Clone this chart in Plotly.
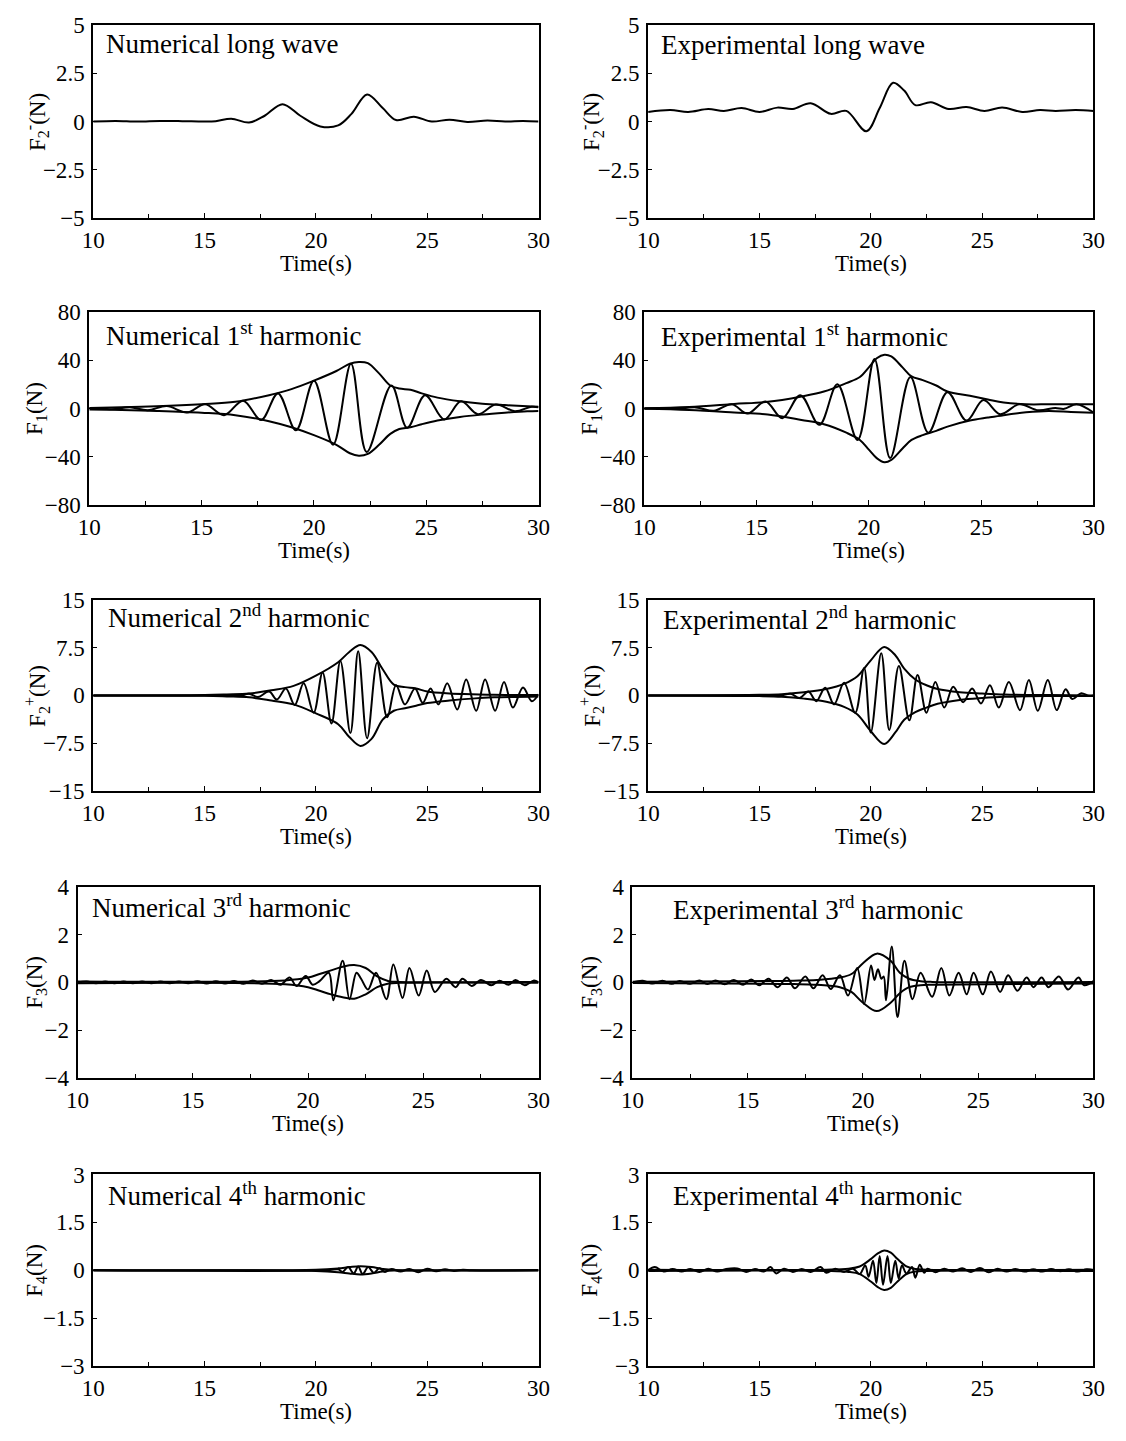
import plotly.graph_objects as go

# ---------------- data ----------------
# Long wave
NUM_LW_T = [10, 11, 12, 13, 14, 15, 15.5, 16.2, 17.0, 17.7, 18.5, 19.3, 20.2, 21.0, 21.6, 22.3, 23.0, 23.6, 24.4, 25.2, 26.0, 26.8, 27.7, 28.5, 29.3, 30]
NUM_LW_V = [0, 0.03, 0, 0.03, 0.02, 0, 0.02, 0.15, -0.05, 0.3, 0.9, 0.3, -0.25, -0.2, 0.4, 1.4, 0.7, 0.08, 0.25, 0, 0.1, -0.02, 0.05, 0, 0.03, 0]
EXP_LW_T = [10, 11, 11.8, 12.7, 13.4, 14.2, 15, 15.8, 16.5, 17.3, 18.2, 18.9, 19.8, 20.4, 21.0, 21.5, 22.0, 22.7, 23.5, 24.3, 25.1, 25.9, 26.8, 27.6, 28.3, 29.2, 30]
EXP_LW_V = [0.5, 0.6, 0.5, 0.65, 0.55, 0.7, 0.5, 0.72, 0.65, 0.95, 0.4, 0.55, -0.5, 0.7, 2.0, 1.6, 0.85, 1.0, 0.65, 0.75, 0.55, 0.72, 0.5, 0.6, 0.55, 0.6, 0.55]

# 1st harmonic
NUM1_T = [10.0, 10.2, 11.0, 11.8, 12.6, 13.45, 14.35, 15.15, 16.0, 16.85, 17.65, 18.4, 19.2, 20.0, 20.85, 21.65, 22.35, 23.45, 24.15, 24.95, 25.8, 26.55, 27.3, 28.1, 28.95, 29.7, 30.0]
NUM1_V = [0.3, 0.5, -0.6, 1.0, -1.4, 2.0, -3.3, 3.5, -5.5, 6.5, -9.5, 12.5, -18, 23, -30, 37, -36, 19, -16, 11, -9, 6, -4.7, 3.3, -2.3, 1.5, 1.0]
NUM1_ENV_T = [10, 11, 13, 15, 16.5, 18, 19, 20, 21, 21.6, 22.0, 22.4, 22.9, 23.4, 23.8, 24.3, 24.8, 25.5, 26.5, 27.5, 28.5, 29.5, 30]
NUM1_UP_V = [0.5, 0.8, 1.8, 3.5, 5.5, 11, 16, 23, 31, 37, 38.5, 37.5, 29, 19, 16.5, 15.5, 12.5, 9, 6, 4, 2.8, 1.8, 1.4]
NUM1_LO_V = [-0.8, -1, -2, -3.5, -5.5, -10.5, -15.5, -22, -30, -37, -39, -37.5, -30, -21, -17, -15.5, -13, -10, -7, -5, -3.5, -2.3, -2]

EXP1_T = [10.0, 10.5, 11.3, 12.3, 13.1, 13.9, 14.6, 15.4, 16.15, 16.95, 17.8, 18.6, 19.5, 20.25, 20.95, 21.85, 22.65, 23.5, 24.35, 25.1, 25.85, 26.7, 27.55, 28.3, 28.7, 29.25, 30.0]
EXP1_V = [0, 0.3, -0.5, 0.9, -1.9, 3.5, -4.2, 5.8, -8, 11, -13.5, 20, -26, 41, -41, 26, -20, 13.5, -10, 7, -4.7, 3.5, -1.5, 0.5, -0.3, 3.5, -3.3]
EXP1_ENV_T = [10, 12, 14, 15.5, 17, 18, 19, 19.6, 20.0, 20.35, 20.7, 21.0, 21.5, 21.9, 22.4, 23.0, 23.5, 24.5, 25.3, 26.0, 27.0, 28.0, 29.0, 30.0]
EXP1_UP_V = [0.3, 1.3, 3.7, 5.5, 10, 14, 21, 26, 34, 41.5, 44.5, 43, 34, 26.5, 23.5, 19, 14, 10.5, 7.5, 5, 3.5, 3.5, 3.5, 3.5]
EXP1_LO_V = [-0.3, -1.3, -3.3, -5, -9.5, -13, -20, -26, -34, -41, -44.5, -42.5, -33, -26, -22, -18.5, -15, -10, -7.5, -5.5, -3.2, -2, -2.8, -3.5]

# 2nd harmonic
NUM2_T = [10.0, 15.5, 16.1, 16.55, 17.0, 17.4, 17.9, 18.25, 18.65, 19.05, 19.45, 19.9, 20.3, 20.7, 21.1, 21.55, 21.9, 22.3, 22.75, 23.2, 23.6, 24.0, 24.45, 24.8, 25.15, 25.5, 25.9, 26.35, 26.75, 27.2, 27.6, 28.05, 28.45, 28.85, 29.3, 29.7, 30.0]
NUM2_V = [0, 0, 0.05, -0.1, 0.25, -0.25, 0.6, -0.65, 1.1, -1.5, 1.9, -2.7, 3.6, -4.4, 5.4, -5.9, 6.9, -6.7, 5.1, -3.4, 1.6, -1.4, 1.1, -1.15, 1.1, -1.4, 1.9, -2.2, 2.5, -2.4, 2.5, -2.4, 2.1, -1.9, 1.25, -0.9, 0.2]
NUM2_ENV_T = [10, 15, 16, 17, 18, 19, 20, 21, 21.5, 22.0, 22.5, 23.0, 23.5, 24.0, 24.5, 25.0, 26, 27, 28, 30]
NUM2_UP_V = [0, 0.05, 0.15, 0.3, 0.8, 1.5, 3.1, 5.2, 6.8, 7.9, 6.8, 4.1, 1.7, 1.3, 1.1, 0.6, 0.3, 0.2, 0.1, 0.05]
NUM2_LO_V = [0, -0.05, -0.15, -0.3, -0.8, -1.4, -2.8, -4.5, -6.5, -7.9, -6.8, -3.8, -2.4, -2.0, -1.6, -1.2, -0.8, -0.5, -0.3, -0.15]

EXP2_T = [10.0, 15.5, 16.0, 16.4, 16.8, 17.2, 17.55, 17.95, 18.35, 18.8, 19.3, 19.7, 20.0, 20.47, 20.83, 21.26, 21.73, 22.1, 22.5, 22.9, 23.3, 23.7, 24.15, 24.55, 24.95, 25.35, 25.75, 26.2, 26.7, 27.1, 27.5, 27.95, 28.35, 28.75, 29.05, 29.45, 29.8, 30.0]
EXP2_V = [0, 0, 0.05, 0.25, -0.4, 0.6, -0.9, 1.2, -1.4, 2.0, -2.7, 4.3, -5.8, 6.6, -5.4, 4.6, -3.9, 3.2, -2.7, 2.1, -1.9, 1.35, -1.05, 1.1, -1.25, 1.6, -1.9, 2.1, -2.3, 2.4, -2.4, 2.4, -2.3, 0.95, -0.55, 0.35, -0.1, 0]
EXP2_ENV_T = [10, 15, 16, 17, 18, 18.8, 19.4, 20.0, 20.6, 21.1, 21.5, 22.0, 22.5, 23.0, 24, 25, 26, 28, 30]
EXP2_UP_V = [0, 0.1, 0.2, 0.5, 1.0, 1.8, 3.0, 5.5, 7.6, 6.3, 4.2, 2.5, 1.6, 1.0, 0.5, 0.3, 0.15, 0.05, 0]
EXP2_LO_V = [0, -0.1, -0.2, -0.5, -1.0, -1.8, -3.0, -5.6, -7.6, -5.8, -3.8, -2.6, -1.9, -1.3, -0.7, -0.4, -0.2, -0.1, -0.1]

# 3rd harmonic
NUM3_T = [10.0, 10.4, 10.8, 11.2, 11.6, 12.0, 12.4, 12.8, 13.2, 13.6, 14.0, 14.4, 14.8, 15.2, 15.6, 16.0, 16.4, 16.8, 17.2, 17.6, 18.0, 18.4, 18.8, 19.2, 19.5, 19.9, 20.2, 20.5, 20.9, 21.1, 21.5, 21.8, 22.1, 22.3, 22.6, 22.95, 23.4, 23.7, 24.1, 24.4, 24.8, 25.15, 25.5, 26.0, 26.4, 26.7, 27.1, 27.5, 27.95, 28.3, 28.7, 29.0, 29.4, 29.8, 30.0]
NUM3_V = [0, 0.04, -0.04, 0.04, -0.04, 0.04, -0.04, 0.04, -0.04, 0.04, -0.04, 0.04, -0.04, 0.05, -0.05, 0.05, -0.05, 0.06, -0.06, 0.08, -0.06, 0.1, -0.1, 0.2, -0.15, 0.27, -0.1, 0.05, 0.4, -0.75, 0.9, -0.7, 0.4, 0.15, -0.3, 0.4, -0.7, 0.75, -0.65, 0.6, -0.55, 0.5, -0.4, 0.15, -0.2, 0.15, -0.15, 0.1, -0.12, 0.07, -0.1, 0.1, -0.12, 0.08, 0]
NUM3_ENV_T = [10, 19, 20, 20.5, 21, 21.5, 22.0, 22.5, 23.0, 23.5, 24, 30]
NUM3_UP_V = [0.04, 0.08, 0.2, 0.35, 0.5, 0.65, 0.72, 0.6, 0.25, 0.05, 0.02, 0.02]
NUM3_LO_V = [-0.04, -0.08, -0.2, -0.35, -0.5, -0.62, -0.68, -0.5, -0.2, -0.05, -0.02, -0.02]

EXP3_T = [10.0, 10.45, 10.85, 11.3, 11.7, 12.05, 12.5, 12.9, 13.25, 13.6, 14.0, 14.4, 14.8, 15.15, 15.5, 15.9, 16.3, 16.7, 17.05, 17.5, 17.85, 18.25, 18.6, 19.0, 19.35, 19.75, 20.05, 20.35, 20.5, 20.65, 20.8, 20.9, 21.0, 21.25, 21.5, 21.8, 22.15, 22.5, 23.0, 23.4, 23.75, 24.15, 24.5, 24.8, 25.2, 25.55, 25.95, 26.3, 26.7, 27.1, 27.4, 27.75, 28.05, 28.5, 28.9, 29.35, 29.6, 30.0]
EXP3_V = [0, 0.07, -0.05, 0.07, -0.06, 0.06, -0.06, 0.08, -0.07, 0.08, -0.08, 0.1, -0.1, 0.12, -0.12, 0.15, -0.2, 0.2, -0.25, 0.25, -0.25, 0.3, -0.28, 0.3, -0.55, 0.6, -0.9, 0.7, 0.1, 0.55, 0.15, 0.25, -0.75, 1.5, -1.45, 0.9, -0.7, 0.4, -0.6, 0.6, -0.55, 0.4, -0.5, 0.4, -0.5, 0.45, -0.4, 0.3, -0.35, 0.2, -0.2, 0.2, -0.2, 0.25, -0.3, 0.2, -0.12, 0.05]
EXP3_ENV_T = [10, 17, 18, 19, 19.5, 20.0, 20.6, 21.2, 21.6, 22.0, 22.5, 23, 30]
EXP3_UP_V = [0.03, 0.07, 0.1, 0.2, 0.35, 0.8, 1.2, 0.9, 0.4, 0.15, 0.05, 0.02, 0.02]
EXP3_LO_V = [-0.03, -0.07, -0.1, -0.2, -0.4, -0.85, -1.2, -0.85, -0.45, -0.2, -0.12, -0.1, -0.05]

# 4th harmonic
NUM4_T = [10.0, 20.5, 21.0, 21.2, 21.45, 21.7, 21.9, 22.1, 22.35, 22.6, 22.85, 23.1, 23.4, 23.8, 24.2, 24.6, 25.0, 25.4, 25.8, 26.2, 26.6, 27.0, 30.0]
NUM4_V = [0, 0, 0.03, -0.05, 0.1, -0.1, 0.12, -0.12, 0.1, -0.08, 0.06, -0.05, 0.04, -0.04, 0.04, -0.06, 0.05, -0.03, 0.03, -0.02, 0.02, 0, 0]
NUM4_ENV_T = [10, 20, 21, 21.5, 22.0, 22.5, 23, 23.5, 30]
NUM4_UP_V = [0.01, 0.02, 0.06, 0.1, 0.13, 0.1, 0.04, 0.01, 0.01]
NUM4_LO_V = [-0.01, -0.02, -0.06, -0.1, -0.13, -0.1, -0.04, -0.01, -0.01]

EXP4_T = [10.0, 10.3, 10.7, 11.1, 11.5, 11.9, 12.3, 12.7, 13.1, 13.5, 14.0, 14.4, 14.8, 15.2, 15.5, 15.75, 16.1, 16.5, 16.9, 17.3, 17.75, 18.0, 18.4, 18.8, 19.2, 19.5, 19.75, 19.9, 20.1, 20.25, 20.4, 20.55, 20.75, 20.9, 21.1, 21.25, 21.4, 21.6, 21.85, 22.0, 22.2, 22.4, 22.55, 22.9, 23.3, 23.7, 24.1, 24.5, 24.9, 25.3, 25.7, 26.1, 26.5, 26.9, 27.3, 27.7, 28.1, 28.5, 28.9, 29.3, 29.7, 30.0]
EXP4_V = [0, 0.1, -0.04, 0.04, -0.04, 0.04, -0.05, 0.05, -0.04, 0.04, 0.06, -0.05, 0.04, -0.04, 0.1, -0.1, 0.05, -0.05, 0.04, -0.05, 0.1, -0.08, 0.05, -0.05, 0.05, -0.12, 0.15, -0.2, 0.3, -0.4, 0.45, -0.45, 0.45, -0.4, 0.3, -0.25, 0.15, -0.1, 0.1, -0.23, 0.17, -0.08, 0.05, -0.06, 0.05, -0.04, 0.06, -0.05, 0.07, -0.06, 0.05, -0.04, 0.04, -0.04, 0.03, -0.04, 0.04, -0.03, 0.03, -0.04, 0.03, 0]
EXP4_ENV_T = [10, 18, 19, 19.5, 20.0, 20.3, 20.6, 20.9, 21.2, 21.6, 22.0, 22.5, 30]
EXP4_UP_V = [0.02, 0.02, 0.05, 0.12, 0.35, 0.52, 0.62, 0.55, 0.35, 0.12, 0.04, 0.02, 0.02]
EXP4_LO_V = [-0.02, -0.02, -0.05, -0.12, -0.35, -0.52, -0.62, -0.55, -0.35, -0.12, -0.04, -0.02, -0.02]

# axis ranges / ticks
X_RANGE = [10, 30]
X_TICKS = [10, 15, 20, 25, 30]
Y_RANGES = [[-5, 5], [-80, 80], [-15, 15], [-4, 4], [-3, 3]]
Y_TICKS = [[-5, -2.5, 0, 2.5, 5], [-80, -40, 0, 40, 80], [-15, -7.5, 0, 7.5, 15], [-4, -2, 0, 2, 4], [-3, -1.5, 0, 1.5, 3]]
Y_LABELS = ["F<sub>2</sub><sup>-</sup>(N)", "F<sub>1</sub>(N)", "F<sub>2</sub><sup>+</sup>(N)", "F<sub>3</sub>(N)", "F<sub>4</sub>(N)"]
TITLES_NUM = ["Numerical long wave", "Numerical 1<sup>st</sup> harmonic", "Numerical 2<sup>nd</sup> harmonic",
              "Numerical 3<sup>rd</sup> harmonic", "Numerical 4<sup>th</sup> harmonic"]
TITLES_EXP = ["Experimental long wave", "Experimental 1<sup>st</sup> harmonic", "Experimental 2<sup>nd</sup> harmonic",
              "Experimental 3<sup>rd</sup> harmonic", "Experimental 4<sup>th</sup> harmonic"]
X_TITLE = "Time(s)"

# ---------------- layout geometry (pixels) ----------------
W, H = 1126, 1441
FONT = "Liberation Serif"
ROW_TB = [(13, 210), (305, 502), (598, 793), (890, 1085), (1183, 1378)]
LEFT_LR = [(83, 538), (79, 538), (83, 538), (67, 538), (83, 538)]
RIGHT_LR = [(650, 1105), (646, 1105), (650, 1105), (634, 1105), (650, 1105)]
TITLE_POS_L = [(94, 33), (94, 328), (96, 615), (80, 910), (96, 1203)]
TITLE_POS_R = [(661, 34), (661, 329), (663, 617), (673, 912), (673, 1203)]

series = [
    ([(NUM_LW_T, NUM_LW_V)], [(EXP_LW_T, EXP_LW_V)]),
    ([(NUM1_T, NUM1_V), (NUM1_ENV_T, NUM1_UP_V), (NUM1_ENV_T, NUM1_LO_V)],
     [(EXP1_T, EXP1_V), (EXP1_ENV_T, EXP1_UP_V), (EXP1_ENV_T, EXP1_LO_V)]),
    ([(NUM2_T, NUM2_V), (NUM2_ENV_T, NUM2_UP_V), (NUM2_ENV_T, NUM2_LO_V)],
     [(EXP2_T, EXP2_V), (EXP2_ENV_T, EXP2_UP_V), (EXP2_ENV_T, EXP2_LO_V)]),
    ([(NUM3_T, NUM3_V), (NUM3_ENV_T, NUM3_UP_V), (NUM3_ENV_T, NUM3_LO_V)],
     [(EXP3_T, EXP3_V), (EXP3_ENV_T, EXP3_UP_V), (EXP3_ENV_T, EXP3_LO_V)]),
    ([(NUM4_T, NUM4_V), (NUM4_ENV_T, NUM4_UP_V), (NUM4_ENV_T, NUM4_LO_V)],
     [(EXP4_T, EXP4_V), (EXP4_ENV_T, EXP4_UP_V), (EXP4_ENV_T, EXP4_LO_V)]),
]

fig = go.Figure()
layout = dict(width=W, height=H, margin=dict(l=0, r=0, t=0, b=0),
              paper_bgcolor="white", plot_bgcolor="white", showlegend=False,
              font=dict(family=FONT, color="black"))
annotations = []

def px_x(p):
    return p / W

def px_y(p):
    return 1 - p / H

idx = 0
for r in range(5):
    top, bot = ROW_TB[r]
    for c in range(2):
        idx += 1
        L, R = (LEFT_LR if c == 0 else RIGHT_LR)[r]
        suffix = "" if idx == 1 else str(idx)
        xname, yname = "x" + suffix, "y" + suffix
        for (t, v) in series[r][c]:
            fig.add_trace(go.Scatter(x=t, y=v, mode="lines", xaxis=xname, yaxis=yname,
                                     line=dict(color="black", width=2, shape="spline", smoothing=1.0),
                                     hoverinfo="skip", showlegend=False))
        layout["xaxis" + suffix] = dict(
            domain=[px_x(L), px_x(R)], anchor=yname, range=X_RANGE, tickvals=X_TICKS,
            ticks="inside", ticklen=5, tickwidth=1.2, tickcolor="black",
            minor=dict(dtick=2.5, tick0=10, ticks="inside", ticklen=4, tickwidth=1.2, tickcolor="black"),
            showline=True, mirror=True, linecolor="black", linewidth=2,
            showgrid=False, zeroline=False, tickfont=dict(family=FONT, size=23, color="black"))
        layout["yaxis" + suffix] = dict(
            domain=[px_y(bot), px_y(top)], anchor=xname, range=Y_RANGES[r], tickvals=Y_TICKS[r],
            ticks="inside", ticklen=4, tickwidth=1.2, tickcolor="black",
            showline=True, mirror=True, linecolor="black", linewidth=2,
            showgrid=False, zeroline=False, ticklabelstandoff=2,
            tickfont=dict(family=FONT, size=23, color="black"))
        tx, ty = (TITLE_POS_L if c == 0 else TITLE_POS_R)[r]
        annotations.append(dict(text=(TITLES_NUM if c == 0 else TITLES_EXP)[r], x=px_x(tx), y=px_y(ty),
                                xref="paper", yref="paper", xanchor="left", yanchor="middle",
                                showarrow=False, font=dict(family=FONT, size=27, color="black")))
        annotations.append(dict(text=X_TITLE, x=px_x((L + R) / 2), y=px_y(bot + 46),
                                xref="paper", yref="paper", xanchor="center", yanchor="middle",
                                showarrow=False, font=dict(family=FONT, size=23, color="black")))
        annotations.append(dict(text=Y_LABELS[r], x=px_x(25 if c == 0 else 592), y=px_y((top + bot) / 2),
                                xref="paper", yref="paper", xanchor="center", yanchor="middle",
                                textangle=-90, showarrow=False,
                                font=dict(family=FONT, size=23, color="black")))

layout["annotations"] = annotations
fig.update_layout(**layout)
fig.write_html("out.html")
